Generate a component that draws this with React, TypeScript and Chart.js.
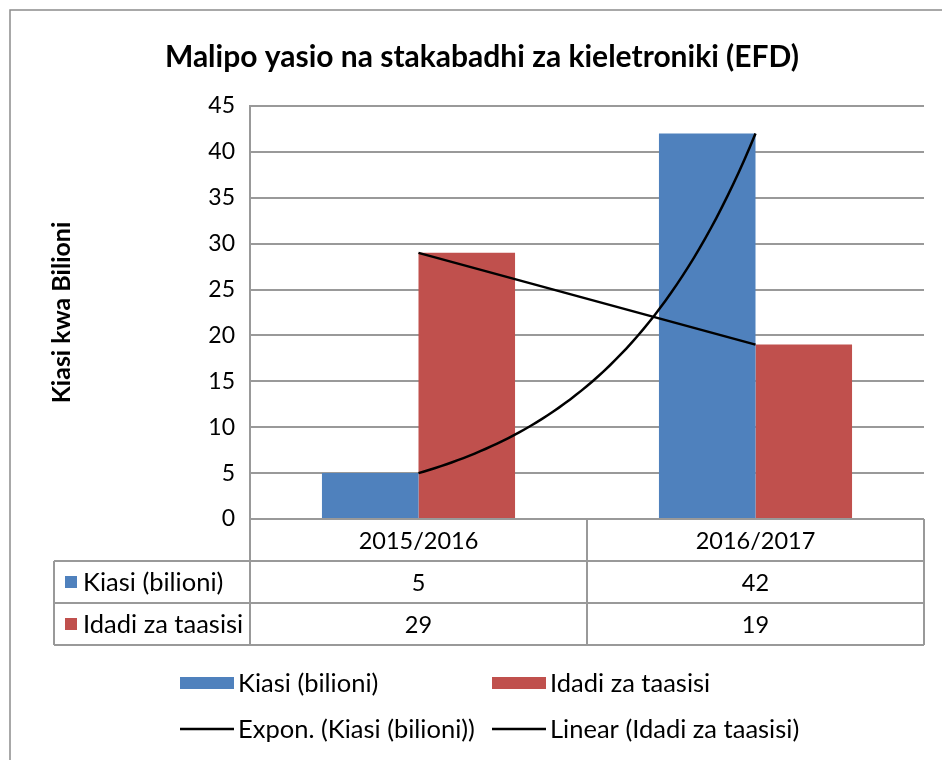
import React, { useEffect, useRef } from 'react';
import { Chart, registerables } from 'chart.js';

Chart.register(...registerables);

// ---- data ----
const titleText = 'Malipo yasio na stakabadhi za kieletroniki (EFD)';
const yAxisTitle = 'Kiasi kwa Bilioni';
const categories = ['2015/2016', '2016/2017'];
const kiasiName = 'Kiasi (bilioni)';
const idadiName = 'Idadi za taasisi';
const kiasiValues = [5, 42];
const idadiValues = [29, 19];
const expTrendName = 'Expon. (Kiasi (bilioni))';
const linTrendName = 'Linear (Idadi za taasisi)';
const yMin = 0;
const yMax = 45;
const yStep = 5;

const BLUE = '#4F81BD';
const RED = '#C0504D';
const GRID = '#999999';
const FONT = 'Lato, "Liberation Sans", sans-serif';

// bar points placed at category index positions
const toPoints = (vals: number[]) => vals.map((v, i) => ({ x: i, y: v }));

// Excel-style exponential trendline: least squares fit of ln(y) on x (x = category index)
function expTrend(vals: number[], samples: number) {
  const n = vals.length;
  const xs = vals.map((_, i) => i);
  const ly = vals.map((v) => Math.log(v));
  const mx = xs.reduce((a, b) => a + b, 0) / n;
  const my = ly.reduce((a, b) => a + b, 0) / n;
  let num = 0, den = 0;
  for (let i = 0; i < n; i++) { num += (xs[i] - mx) * (ly[i] - my); den += (xs[i] - mx) ** 2; }
  const b = num / den;
  const a = Math.exp(my - b * mx);
  const pts: { x: number; y: number }[] = [];
  for (let k = 0; k <= samples; k++) {
    const x = (k / samples) * (n - 1);
    pts.push({ x, y: a * Math.exp(b * x) });
  }
  return pts;
}

// Excel-style linear trendline
function linTrend(vals: number[]) {
  const n = vals.length;
  const xs = vals.map((_, i) => i);
  const mx = xs.reduce((a, b) => a + b, 0) / n;
  const my = vals.reduce((a, b) => a + b, 0) / n;
  let num = 0, den = 0;
  for (let i = 0; i < n; i++) { num += (xs[i] - mx) * (vals[i] - my); den += (xs[i] - mx) ** 2; }
  const b = num / den;
  const a = my - b * mx;
  return [{ x: 0, y: a }, { x: n - 1, y: a + b * (n - 1) }];
}

const tablePlugin = {
  id: 'tableLegend',
  afterDraw(chart: any) {
    const ctx = chart.ctx as CanvasRenderingContext2D;
    const area = chart.chartArea;
    const xs = chart.scales.x;
    const L = area.left, R = area.right, B = area.bottom;
    const TL = 54;
    const rowH = 42;
    ctx.save();
    // outer chart border
    ctx.strokeStyle = '#8C8C8C';
    ctx.lineWidth = 1.5;
    ctx.strokeRect(10, 10, 2000, 2000);

    // table grid
    ctx.strokeStyle = GRID;
    ctx.lineWidth = 2;
    ctx.beginPath();
    for (let r = 1; r <= 3; r++) {
      ctx.moveTo(TL, B + r * rowH);
      ctx.lineTo(R, B + r * rowH);
    }
    const cuts = [L];
    for (let i = 0; i < categories.length - 1; i++) cuts.push(xs.getPixelForValue(i + 0.5));
    cuts.push(R);
    cuts.forEach((x) => {
      ctx.moveTo(x, B);
      ctx.lineTo(x, B + 3 * rowH);
    });
    ctx.moveTo(TL, B + rowH);
    ctx.lineTo(TL, B + 3 * rowH);
    ctx.stroke();

    ctx.fillStyle = '#000';
    ctx.textBaseline = 'middle';
    ctx.textAlign = 'center';
    ctx.font = `23.5px ${FONT}`;
    categories.forEach((c, i) => {
      const cx = xs.getPixelForValue(i);
      ctx.fillText(c, cx, B + rowH / 2 + 1);
      ctx.fillText(String(kiasiValues[i]), cx, B + rowH * 1.5 + 1);
      ctx.fillText(String(idadiValues[i]), cx, B + rowH * 2.5 + 1);
    });
    // row headers
    ctx.font = `25.5px ${FONT}`;
    const rows = [
      { name: kiasiName, color: BLUE },
      { name: idadiName, color: RED },
    ];
    rows.forEach((r, i) => {
      const cy = B + rowH * (1.5 + i);
      ctx.fillStyle = r.color;
      ctx.fillRect(TL + 11, cy - 6, 12, 12);
      ctx.fillStyle = '#000';
      ctx.textAlign = 'left';
      ctx.fillText(r.name, TL + 29, cy + 1);
    });

    // legend
    const items = [
      { name: kiasiName, color: BLUE, kind: 'box', x: 180, y: 683 },
      { name: idadiName, color: RED, kind: 'box', x: 492, y: 683 },
      { name: expTrendName, color: '#000', kind: 'line', x: 180, y: 729 },
      { name: linTrendName, color: '#000', kind: 'line', x: 492, y: 729 },
    ];
    items.forEach((it) => {
      if (it.kind === 'box') {
        ctx.fillStyle = it.color;
        ctx.fillRect(it.x, it.y - 6, 54, 12);
      } else {
        ctx.strokeStyle = it.color;
        ctx.lineWidth = 2.5;
        ctx.beginPath();
        ctx.moveTo(it.x, it.y);
        ctx.lineTo(it.x + 54, it.y);
        ctx.stroke();
      }
      ctx.fillStyle = '#000';
      ctx.textAlign = 'left';
      ctx.fillText(it.name, it.x + 58, it.y + 1);
    });
    ctx.restore();
  },
};

export default function App() {
  const ref = useRef<HTMLCanvasElement | null>(null);
  useEffect(() => {
    if (!ref.current) return;
    const chart = new Chart(ref.current, {
      type: 'bar',
      data: {
        datasets: [
          {
            label: kiasiName,
            data: toPoints(kiasiValues),
            backgroundColor: BLUE,
            categoryPercentage: 0.573,
            barPercentage: 1,
            order: 2,
          } as any,
          {
            label: idadiName,
            data: toPoints(idadiValues),
            backgroundColor: RED,
            categoryPercentage: 0.573,
            barPercentage: 1,
            order: 2,
          } as any,
          {
            type: 'line',
            label: expTrendName,
            data: expTrend(kiasiValues, 60),
            borderColor: '#000',
            borderWidth: 2.5,
            pointRadius: 0,
            fill: false,
            order: 1,
          } as any,
          {
            type: 'line',
            label: linTrendName,
            data: linTrend(idadiValues),
            borderColor: '#000',
            borderWidth: 2.5,
            pointRadius: 0,
            fill: false,
            order: 1,
          } as any,
        ],
      },
      options: {
        responsive: false,
        animation: false,
        events: [],
        layout: { padding: { left: 40, right: 18, top: 0, bottom: 241 } },
        plugins: {
          legend: { display: false },
          tooltip: { enabled: false },
          title: {
            display: true,
            text: titleText,
            color: '#000',
            font: { family: FONT, size: 30, weight: 'bold', lineHeight: 1.2 },
            padding: { top: 39, bottom: 31 },
          },
        },
        scales: {
          x: {
            type: 'linear',
            display: false,
            offset: false,
            min: -0.5,
            max: categories.length - 0.5,
            afterBuildTicks: (s: any) => {
              s.ticks = categories.map((_, i) => ({ value: i }));
            },
          },
          y: {
            min: yMin,
            max: yMax,
            ticks: {
              stepSize: yStep,
              color: '#000',
              padding: 15,
              font: { family: FONT, size: 23 },
            },
            grid: { color: GRID, lineWidth: 2, drawTicks: false },
            border: { display: true, color: GRID, width: 2 },
            title: {
              display: true,
              text: yAxisTitle,
              color: '#000',
              font: { family: FONT, size: 25, weight: 'bold', lineHeight: 1.2 },
              padding: { top: 7, bottom: 0 },
            },
            afterFit: (s: any) => { s.width = 210; },
          },
        },
      } as any,
      plugins: [tablePlugin],
    });
    return () => chart.destroy();
  }, []);
  return (
    <div style={{ position: 'absolute', left: 0, top: 0, width: 942, height: 760, background: '#fff' }}>
      <canvas ref={ref} width={942} height={760} style={{ display: 'block', width: 942, height: 760 }} />
    </div>
  );
}
